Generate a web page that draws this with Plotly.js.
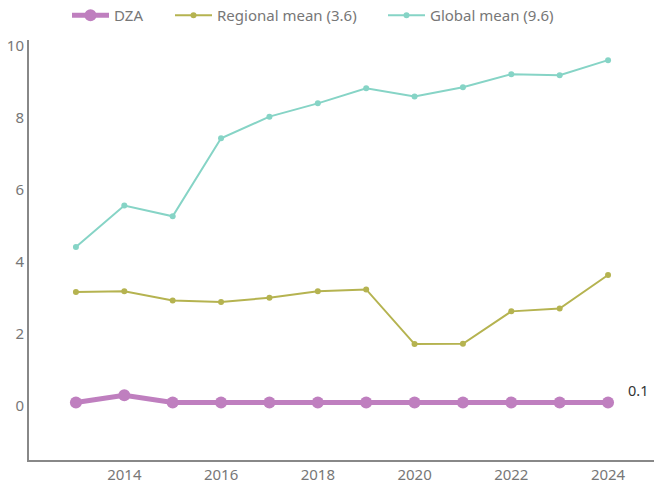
<!DOCTYPE html>
<html><head><meta charset="utf-8">
<script src="https://cdn.plot.ly/plotly-3.0.1.min.js"></script>
<style>body{margin:0;background:#fff}#c{width:654px;height:481px}</style>
</head><body><div id="c"></div>
<script>
var years = [2013,2014,2015,2016,2017,2018,2019,2020,2021,2022,2023,2024];
var dza = [0.1,0.3,0.1,0.1,0.1,0.1,0.1,0.1,0.1,0.1,0.1,0.1];
var regional = [3.17,3.19,2.93,2.89,3.01,3.19,3.24,1.72,1.73,2.63,2.71,3.64];
var globalMean = [4.42,5.57,5.27,7.44,8.04,8.41,8.83,8.6,8.86,9.22,9.19,9.61];
var names = ["DZA","Regional mean (3.6)","Global mean (9.6)"];
var endLabel = "0.1";

var traces = [
 {x:years,y:dza,name:names[0],legend:"legend",mode:"lines+markers",line:{color:"#bf7fbf",width:5},marker:{size:12,color:"#bf7fbf"}},
 {x:years,y:regional,name:names[1],legend:"legend2",mode:"lines+markers",line:{color:"#b5b350",width:2},marker:{size:6,color:"#b5b350"}},
 {x:years,y:globalMean,name:names[2],legend:"legend3",mode:"lines+markers",line:{color:"#86d4c6",width:2},marker:{size:6,color:"#86d4c6"}}
];
function leg(px){
  return {orientation:"h",xref:"container",yref:"container",x:px/654,xanchor:"left",y:0.968,yanchor:"middle",
   font:{size:15,color:"#777"},itemwidth:37,bgcolor:"rgba(0,0,0,0)"};
}
var layout = {
 width:654,height:481,
 margin:{l:29,r:0,t:40,b:21},
 paper_bgcolor:"#fff",plot_bgcolor:"#fff",
 font:{family:"Noto Sans, sans-serif",size:15,color:"#777"},
 showlegend:true,
 legend:leg(67),legend2:leg(170),legend3:leg(383),
 xaxis:{range:[2012.03,2024.95],automargin:false,showgrid:false,zeroline:false,showline:true,linecolor:"#888",linewidth:2,
   tickvals:[2014,2016,2018,2020,2022,2024],ticks:"",tickfont:{size:15,color:"#777"}},
 yaxis:{range:[-1.5,10.17],automargin:false,showgrid:false,zeroline:false,showline:true,linecolor:"#888",linewidth:2,
   tickvals:[0,2,4,6,8,10],ticks:"",tickfont:{size:15,color:"#777"}},
 annotations:[{x:years[years.length-1],y:dza[dza.length-1],text:endLabel,showarrow:false,xanchor:"left",xshift:18,yshift:12,font:{size:14.5,color:"#333"}}]
};
Plotly.newPlot("c",traces,layout,{displayModeBar:false});
</script></body></html>
